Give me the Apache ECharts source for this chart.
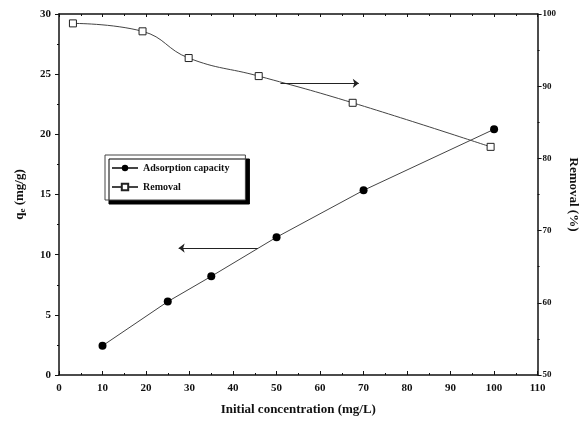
<!DOCTYPE html>
<html>
<head>
<meta charset="utf-8">
<script src="https://cdn.jsdelivr.net/npm/echarts@6/dist/echarts.min.js"></script>
<style>
  html, body { margin: 0; padding: 0; background: #fff; }
  #chart { width: 588px; height: 421px; }
</style>
</head>
<body>
<div id="chart"></div>
<script>
// Adsorption capacity qe (mg/g) vs initial concentration
const adsConc = [10, 25, 35, 50, 70, 100];
const adsQe = [2.43, 6.1, 8.2, 11.45, 15.35, 20.42];

// Removal (%) vs initial concentration
const remConc = [3.2, 19.2, 29.8, 45.9, 67.5, 99.2];
const remPct = [98.7, 97.6, 93.9, 91.4, 87.7, 81.6];

// Pointer arrows: [x, y] start and end on each axis system
const removalArrow = [[50.9, 90.4], [68.9, 90.4]];
const capacityArrow = [[45.7, 10.55], [27.5, 10.55]];

const FONT = 'Liberation Serif';
const INK = '#111';

const chart = echarts.init(document.getElementById('chart'));

const tickLabel = { fontFamily: FONT, fontWeight: 'bold', fontSize: 11, color: INK };

chart.setOption({
  animation: false,
  backgroundColor: '#fff',
  grid: { left: 59, right: 45, top: 14, bottom: 46, containLabel: false },
  legend: {
    orient: 'vertical',
    left: 105,
    top: 155,
    padding: [8, 16, 8, 6],
    itemGap: 9,
    itemWidth: 26,
    itemHeight: 8,
    backgroundColor: '#fff',
    borderColor: '#444',
    borderWidth: 1,
    shadowColor: '#000',
    shadowBlur: 0,
    shadowOffsetX: 4,
    shadowOffsetY: 4,
    textStyle: { fontFamily: FONT, fontWeight: 'bold', fontSize: 10, color: INK },
    data: ['Adsorption capacity', 'Removal']
  },
  xAxis: [{
    type: 'value', min: 0, max: 110, interval: 10,
    name: 'Initial concentration (mg/L)',
    nameLocation: 'middle', nameGap: 28,
    nameTextStyle: { fontFamily: FONT, fontWeight: 'bold', fontSize: 13, color: INK },
    axisLine: { onZero: false, lineStyle: { color: INK, width: 1.5 } },
    axisTick: { inside: true, length: 4, lineStyle: { color: INK } },
    minorTick: { show: true, splitNumber: 2, length: 2, lineStyle: { color: INK } },
    axisLabel: tickLabel,
    splitLine: { show: false }
  }, {
    type: 'value', min: 0, max: 110, interval: 10, position: 'top',
    axisLine: { onZero: false, lineStyle: { color: INK, width: 1.5 } },
    axisTick: { inside: true, length: 3, lineStyle: { color: INK } },
    minorTick: { show: true, splitNumber: 2, length: 2, lineStyle: { color: INK } },
    axisLabel: { show: false },
    splitLine: { show: false }
  }],
  yAxis: [{
    type: 'value', min: 0, max: 30, interval: 5, position: 'left',
    name: '{q|q}{s|e}{q| (mg/g)}',
    nameLocation: 'middle', nameGap: 32, nameRotate: 90,
    nameTextStyle: {
      rich: {
        q: { fontFamily: FONT, fontWeight: 'bold', fontSize: 13, color: INK },
        s: { fontFamily: FONT, fontWeight: 'bold', fontSize: 9, color: INK, verticalAlign: 'bottom', padding: [6, 0, 0, 0] }
      }
    },
    axisLine: { show: true, onZero: false, lineStyle: { color: INK, width: 1.5 } },
    axisTick: { show: true, length: 4, lineStyle: { color: INK } },
    minorTick: { show: true, splitNumber: 2, length: 2, lineStyle: { color: INK } },
    axisLabel: tickLabel,
    splitLine: { show: false }
  }, {
    type: 'value', min: 50, max: 100, interval: 10, position: 'right',
    name: 'Removal (%)',
    nameLocation: 'middle', nameGap: 26, nameRotate: -90,
    nameTextStyle: { fontFamily: FONT, fontWeight: 'bold', fontSize: 13, color: INK },
    axisLine: { show: true, onZero: false, lineStyle: { color: INK, width: 1.5 } },
    axisTick: { show: true, length: 4, lineStyle: { color: INK } },
    minorTick: { show: true, splitNumber: 2, length: 2, lineStyle: { color: INK } },
    axisLabel: Object.assign({}, tickLabel, { fontSize: 9, margin: 5 }),
    splitLine: { show: false }
  }],
  series: [{
    name: 'Adsorption capacity',
    type: 'line',
    xAxisIndex: 0, yAxisIndex: 0,
    data: adsConc.map((x, i) => [x, adsQe[i]]),
    symbol: 'circle', symbolSize: 8,
    itemStyle: { color: '#000' },
    lineStyle: { color: '#444', width: 1 },
    markLine: {
      silent: true,
      symbol: ['none', 'arrow'], symbolSize: [7, 6],
      label: { show: false },
      lineStyle: { color: '#222', width: 1.2, type: 'solid' },
      data: [[{ coord: capacityArrow[0] }, { coord: capacityArrow[1] }]]
    }
  }, {
    name: 'Removal',
    type: 'line',
    xAxisIndex: 0, yAxisIndex: 1,
    data: remConc.map((x, i) => [x, remPct[i]]),
    smooth: 0.45,
    symbol: 'rect', symbolSize: 7,
    itemStyle: { color: '#fff', borderColor: '#222', borderWidth: 1 },
    lineStyle: { color: '#444', width: 1 },
    markLine: {
      silent: true,
      symbol: ['none', 'arrow'], symbolSize: [7, 6],
      label: { show: false },
      lineStyle: { color: '#222', width: 1.2, type: 'solid' },
      data: [[{ coord: removalArrow[0] }, { coord: removalArrow[1] }]]
    }
  }]
});
</script>
</body>
</html>
